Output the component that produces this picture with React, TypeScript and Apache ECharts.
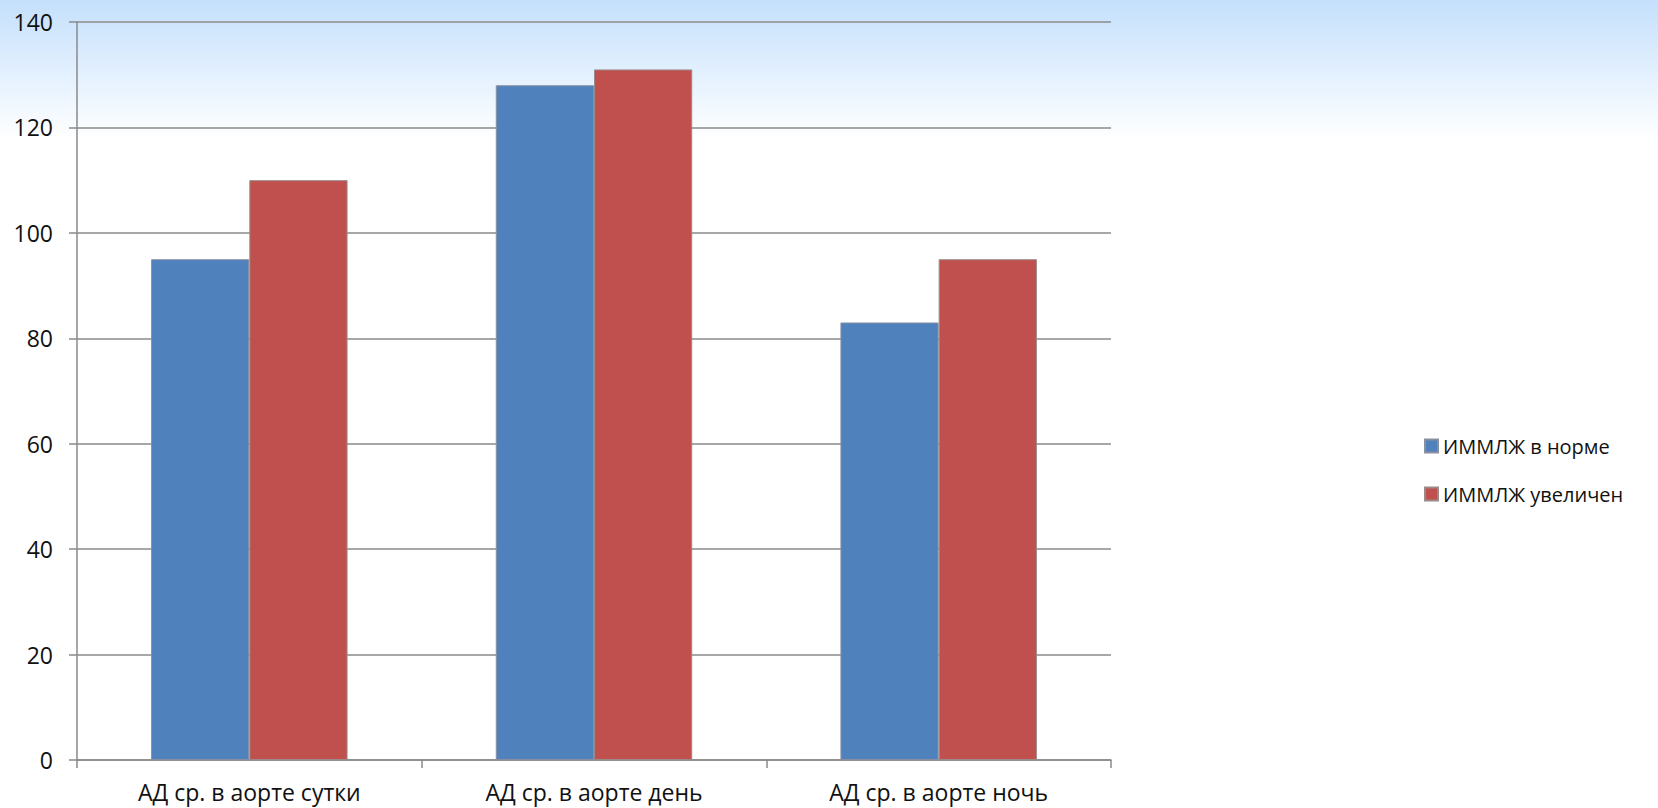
import React, { useEffect, useRef } from "react";
import * as echarts from "echarts";

const categories = ["АД ср. в аорте сутки", "АД ср. в аорте день", "АД ср. в аорте ночь"];
const normalValues = [95, 128, 83];
const enlargedValues = [110, 131, 95];
const seriesNames = ["ИММЛЖ в норме", "ИММЛЖ увеличен"];
const yTicks = { min: 0, max: 140, interval: 20 };

const FONT = "'Open Sans', 'Noto Sans', sans-serif";

export default function App() {
  const ref = useRef<HTMLDivElement>(null);

  useEffect(() => {
    if (!ref.current) return;
    const chart = echarts.init(ref.current, undefined, { renderer: "svg" });
    chart.setOption({
      animation: false,
      graphic: [
        {
          type: "rect",
          z: -10,
          silent: true,
          shape: { x: 0, y: 0, width: 1658, height: 140 },
          style: {
            fill: new echarts.graphic.LinearGradient(0, 0, 0, 1, [
              { offset: 0, color: "#c4e0fc" },
              { offset: 1, color: "#ffffff" },
            ]),
          },
        },
      ],
      grid: { left: 77, top: 22, right: 547, bottom: 48, containLabel: false },
      legend: {
        orient: "vertical",
        left: 1419,
        top: 431,
        itemWidth: 13,
        itemHeight: 13,
        itemGap: 28,
        icon: "rect",
        textStyle: { fontFamily: FONT, fontSize: 20, color: "#111" },
        data: seriesNames,
      },
      xAxis: {
        type: "category",
        data: categories,
        axisLine: { lineStyle: { color: "#8a8a8a", width: 1.5 } },
        axisTick: { show: true, length: 8, alignWithLabel: false, lineStyle: { color: "#8a8a8a", width: 1.5 } },
        axisLabel: { fontFamily: FONT, fontSize: 23, color: "#111", margin: 20 },
      },
      yAxis: {
        type: "value",
        min: yTicks.min,
        max: yTicks.max,
        interval: yTicks.interval,
        axisLine: { show: true, lineStyle: { color: "#8a8a8a", width: 1.5 } },
        axisTick: { show: true, length: 8, lineStyle: { color: "#8a8a8a", width: 1.5 } },
        axisLabel: { fontFamily: FONT, fontSize: 23, color: "#111", margin: 24 },
        splitLine: { show: true, lineStyle: { color: "#8a8a8a", width: 1.5 } },
      },
      series: [
        {
          name: seriesNames[0],
          type: "bar",
          data: normalValues,
          barGap: "0%",
          barCategoryGap: "43%",
          itemStyle: { color: "#4f81bd", borderColor: "#8a8fa0", borderWidth: 1 },
        },
        {
          name: seriesNames[1],
          type: "bar",
          data: enlargedValues,
          barGap: "0%",
          barCategoryGap: "43%",
          itemStyle: { color: "#c0504d", borderColor: "#9a8a8a", borderWidth: 1 },
        },
      ],
    });
    return () => chart.dispose();
  }, []);

  return (
    <div
      ref={ref}
      style={{ position: "fixed", left: 0, top: 0, width: 1658, height: 808, background: "#fff" }}
    />
  );
}
